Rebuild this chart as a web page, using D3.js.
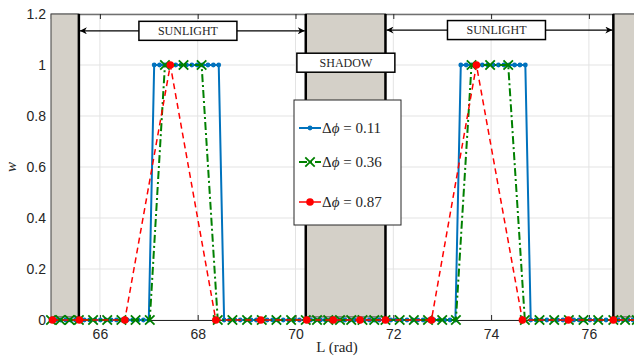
<!DOCTYPE html>
<html>
<head>
<meta charset="utf-8">
<script src="https://cdn.jsdelivr.net/npm/d3@7"></script>
<style>
  body { margin: 0; background: #fff; }
  svg { display: block; }
  .tick text { font-family: "Liberation Sans", Arial, sans-serif; font-size: 14px; fill: #262626; }
</style>
</head>
<body>
<svg id="chart"></svg>
<script>
// tick labels
const xTicks = [66, 68, 70, 72, 74, 76];
const yTicks = [0, 0.2, 0.4, 0.6, 0.8, 1, 1.2];

// eclipse intervals (L, rad)
const shadows = [[65, 65.57], [70.21, 71.84], [76.50, 77]];
const boundaries = [65.57, 70.21, 71.84, 76.50];

// series: dphi = 0.11
const blueL = [65.00, 65.10, 65.20, 65.30, 65.40, 65.50, 65.57,
  65.68, 65.79, 65.90, 66.01, 66.12, 66.23, 66.34, 66.45, 66.56, 66.67, 66.78, 66.89, 67.00,
  67.11, 67.22, 67.33, 67.44, 67.55, 67.66, 67.77, 67.88, 67.99, 68.10, 68.21, 68.32, 68.43,
  68.54, 68.65, 68.76, 68.87, 68.98, 69.09, 69.20, 69.31, 69.42, 69.53, 69.64, 69.75, 69.86, 69.97, 70.08, 70.21,
  70.31, 70.41, 70.51, 70.61, 70.71, 70.81, 70.91, 71.01, 71.11, 71.21, 71.31, 71.41, 71.51, 71.61, 71.71, 71.84,
  71.95, 72.06, 72.17, 72.28, 72.39, 72.50, 72.61, 72.72, 72.83, 72.94, 73.05, 73.16, 73.27,
  73.38, 73.49, 73.60, 73.71, 73.82, 73.93, 74.04, 74.15, 74.26, 74.37, 74.48, 74.59, 74.70,
  74.81, 74.92, 75.03, 75.14, 75.25, 75.36, 75.47, 75.58, 75.69, 75.80, 75.91, 76.02, 76.13, 76.24, 76.35, 76.50,
  76.60, 76.70, 76.80, 76.90, 77.00];
const blueW = [0, 0, 0, 0, 0, 0, 0,
  0, 0, 0, 0, 0, 0, 0, 0, 0, 0, 0, 0, 0,
  1, 1, 1, 1, 1, 1, 1, 1, 1, 1, 1, 1, 1,
  0, 0, 0, 0, 0, 0, 0, 0, 0, 0, 0, 0, 0, 0, 0, 0,
  0, 0, 0, 0, 0, 0, 0, 0, 0, 0, 0, 0, 0, 0, 0, 0,
  0, 0, 0, 0, 0, 0, 0, 0, 0, 0, 0, 0, 0,
  1, 1, 1, 1, 1, 1, 1, 1, 1, 1, 1, 1, 1,
  0, 0, 0, 0, 0, 0, 0, 0, 0, 0, 0, 0, 0, 0, 0, 0,
  0, 0, 0, 0, 0];

// series: dphi = 0.36
const greenL = [65.00, 65.19, 65.38, 65.57,
  65.86, 66.15, 66.44, 66.73, 67.02,
  67.33, 67.71, 68.08,
  68.41, 68.71, 69.01, 69.31, 69.61, 69.91, 70.21,
  70.44, 70.67, 70.91, 71.14, 71.37, 71.61, 71.84,
  72.13, 72.42, 72.71, 73.00, 73.28,
  73.60, 73.98, 74.35,
  74.69, 74.99, 75.29, 75.59, 75.89, 76.19, 76.50,
  76.74, 76.98];
const greenW = [0, 0, 0, 0,
  0, 0, 0, 0, 0,
  1, 1, 1,
  0, 0, 0, 0, 0, 0, 0,
  0, 0, 0, 0, 0, 0, 0,
  0, 0, 0, 0, 0,
  1, 1, 1,
  0, 0, 0, 0, 0, 0, 0,
  0, 0];

// series: dphi = 0.87
const redL = [65.03, 65.58, 66.51, 67.44, 68.37, 69.29, 70.23, 70.77, 71.32, 71.84,
  72.78, 73.70, 74.64, 75.58, 76.50, 77.04];
const redW = [0, 0, 0, 1, 0, 0, 0, 0, 0, 0,
  0, 1, 0, 0, 0, 0];

const legendLabels = ['0.11', '0.36', '0.87'];

const svgWidth = 634;
const svgHeight = 360;
const margin = {top: 14, left: 51, bottom: 40};
const plotBottom = svgHeight - margin.bottom;

const svg = d3.select('#chart')
  .attr('width', svgWidth)
  .attr('height', svgHeight);

const x = d3.scaleLinear().domain([65, 77]).range([margin.left, margin.left + 12 * 48.9]);
const y = d3.scaleLinear().domain([0, 1.2]).range([plotBottom, margin.top]);

// grid
svg.append('g')
  .selectAll('line.gx')
  .data(xTicks)
  .join('line')
  .attr('x1', d => x(d)).attr('x2', d => x(d))
  .attr('y1', y(0)).attr('y2', y(1.2))
  .attr('stroke', '#e3e3e3').attr('stroke-width', 1);
svg.append('g')
  .selectAll('line.gy')
  .data(yTicks)
  .join('line')
  .attr('x1', x(65)).attr('x2', svgWidth)
  .attr('y1', d => y(d)).attr('y2', d => y(d))
  .attr('stroke', '#e3e3e3').attr('stroke-width', 1);

// axes
const xAxis = svg.append('g')
  .attr('transform', `translate(0, ${plotBottom})`)
  .call(d3.axisBottom(x).tickValues(xTicks).tickFormat(d3.format('d')).tickSize(-5).tickPadding(9));
xAxis.select('.domain').attr('stroke', '#262626');
xAxis.selectAll('.tick line').attr('stroke', '#262626');

const xTop = svg.append('g')
  .attr('transform', `translate(0, ${margin.top})`)
  .call(d3.axisTop(x).tickValues(xTicks).tickFormat('').tickSize(-5));
xTop.select('.domain').attr('stroke', '#707070').attr('stroke-width', 1.5);
xTop.selectAll('.tick line').attr('stroke', '#262626');

const yAxis = svg.append('g')
  .attr('transform', `translate(${margin.left}, 0)`)
  .call(d3.axisLeft(y).tickValues(yTicks).tickFormat(d => String(d)).tickSize(-5).tickPadding(5));
yAxis.select('.domain').attr('stroke', '#262626');
yAxis.selectAll('.tick line').attr('stroke', '#262626');

// shadow bands
svg.append('g')
  .selectAll('rect')
  .data(shadows)
  .join('rect')
  .attr('x', d => x(d[0]))
  .attr('y', y(1.2))
  .attr('width', d => x(d[1]) - x(d[0]))
  .attr('height', y(0.012) - y(1.2))
  .attr('fill', '#d4d0c8')
  .attr('stroke', '#404040')
  .attr('stroke-width', 1);

svg.append('g')
  .selectAll('line')
  .data(boundaries)
  .join('line')
  .attr('x1', d => x(d)).attr('x2', d => x(d))
  .attr('y1', y(1.2)).attr('y2', y(0))
  .attr('stroke', '#000')
  .attr('stroke-width', 2.5);

// arrows + labels
const defs = svg.append('defs');
defs.append('marker')
  .attr('id', 'arrow')
  .attr('viewBox', '0 0 10 10')
  .attr('refX', 10).attr('refY', 5)
  .attr('markerWidth', 9).attr('markerHeight', 7)
  .attr('markerUnits', 'userSpaceOnUse')
  .attr('orient', 'auto-start-reverse')
  .append('path')
  .attr('d', 'M0,0 L10,5 L0,10 L3,5 Z')
  .attr('fill', '#000');

const arrows = [
  {x1: boundaries[0], x2: boundaries[1], w: 1.134},
  {x1: boundaries[2], x2: boundaries[3], w: 1.137}
];
svg.append('g')
  .selectAll('line')
  .data(arrows)
  .join('line')
  .attr('x1', d => x(d.x1) + 1).attr('x2', d => x(d.x2) - 1)
  .attr('y1', d => y(d.w)).attr('y2', d => y(d.w))
  .attr('stroke', '#000').attr('stroke-width', 1.3)
  .attr('marker-start', 'url(#arrow)')
  .attr('marker-end', 'url(#arrow)');

const labels = [
  {text: 'SUNLIGHT', L: 67.80, w: 1.134},
  {text: 'SHADOW', L: 71.03, w: 1.009},
  {text: 'SUNLIGHT', L: 74.11, w: 1.137}
];
const lab = svg.append('g')
  .selectAll('g')
  .data(labels)
  .join('g')
  .attr('transform', d => `translate(${x(d.L)}, ${y(d.w)})`);
lab.append('rect')
  .attr('x', -49).attr('y', -9.5)
  .attr('width', 98).attr('height', 19)
  .attr('fill', '#fff')
  .attr('stroke', '#000').attr('stroke-width', 1.5);
lab.append('text')
  .attr('text-anchor', 'middle')
  .attr('dy', '0.35em')
  .attr('font-family', '"Liberation Serif", "DejaVu Serif", serif')
  .attr('font-size', 12)
  .attr('fill', '#262626')
  .text(d => d.text);

// series
const line = d3.line()
  .x(d => x(d[0]))
  .y(d => y(d[1]));

const blue = d3.zip(blueL, blueW);
const green = d3.zip(greenL, greenW);
const red = d3.zip(redL, redW);

svg.append('path')
  .datum(blue)
  .attr('fill', 'none')
  .attr('stroke', '#0072bd')
  .attr('stroke-width', 2)
  .attr('stroke-linejoin', 'round')
  .attr('d', line);
svg.append('g')
  .selectAll('circle')
  .data(blue)
  .join('circle')
  .attr('cx', d => x(d[0])).attr('cy', d => y(d[1]))
  .attr('r', 2.4)
  .attr('fill', '#0072bd');

svg.append('path')
  .datum(green)
  .attr('fill', 'none')
  .attr('stroke', '#008000')
  .attr('stroke-width', 2)
  .attr('stroke-dasharray', '8,3,2,3')
  .attr('d', line);
const cross = d3.symbol().type(d3.symbolX).size(60);
svg.append('g')
  .selectAll('path')
  .data(green)
  .join('path')
  .attr('transform', d => `translate(${x(d[0])}, ${y(d[1])})`)
  .attr('d', cross)
  .attr('fill', 'none')
  .attr('stroke', '#008000')
  .attr('stroke-width', 1.8);

svg.append('path')
  .datum(red)
  .attr('fill', 'none')
  .attr('stroke', '#ff0000')
  .attr('stroke-width', 1.5)
  .attr('stroke-dasharray', '6,4')
  .attr('d', line);
svg.append('g')
  .selectAll('circle')
  .data(red)
  .join('circle')
  .attr('cx', d => x(d[0])).attr('cy', d => y(d[1]))
  .attr('r', 3.8)
  .attr('fill', '#ff0000');

// legend
const legend = svg.append('g').attr('transform', 'translate(294, 100)');
legend.append('rect')
  .attr('width', 107).attr('height', 125)
  .attr('fill', '#fff')
  .attr('stroke', '#262626').attr('stroke-width', 1);

const entries = [
  {label: legendLabels[0], color: '#0072bd', mark: 'dot'},
  {label: legendLabels[1], color: '#008000', mark: 'x'},
  {label: legendLabels[2], color: '#ff0000', mark: 'circle'}
];
const rowY = [28, 62, 102];
const row = legend.selectAll('g.row')
  .data(entries)
  .join('g')
  .attr('transform', (d, i) => `translate(0, ${rowY[i]})`);
row.append('line')
  .attr('x1', 5).attr('x2', 27)
  .attr('stroke', d => d.color)
  .attr('stroke-width', d => d.mark === 'circle' ? 1.5 : 2)
  .attr('stroke-dasharray', d => d.mark === 'x' ? '8,3,2,3' : null);
row.filter(d => d.mark === 'dot').append('circle')
  .attr('cx', 16).attr('r', 2.4).attr('fill', d => d.color);
row.filter(d => d.mark === 'circle').append('circle')
  .attr('cx', 16).attr('r', 3.8).attr('fill', d => d.color);
row.filter(d => d.mark === 'x').append('path')
  .attr('transform', 'translate(16, 0)')
  .attr('d', cross)
  .attr('fill', 'none')
  .attr('stroke', d => d.color)
  .attr('stroke-width', 1.8);
const lt = row.append('text')
  .attr('x', 28)
  .attr('dy', '0.35em')
  .attr('font-family', '"Liberation Serif", "DejaVu Serif", serif')
  .attr('font-size', 15)
  .attr('fill', '#262626');
lt.append('tspan').text('Δ');
lt.append('tspan').attr('font-style', 'italic').text('ϕ');
lt.append('tspan').text(d => ' = ' + d.label);

// axis labels
svg.append('text')
  .attr('x', x(70.85)).attr('y', 352)
  .attr('text-anchor', 'middle')
  .attr('font-family', '"Liberation Serif", "DejaVu Serif", serif')
  .attr('font-size', 15)
  .attr('fill', '#262626')
  .text('L (rad)');

svg.append('text')
  .attr('transform', `translate(16, ${y(0.6)}) rotate(-90)`)
  .attr('text-anchor', 'middle')
  .attr('font-family', '"Liberation Serif", "DejaVu Serif", serif')
  .attr('font-style', 'italic')
  .attr('font-size', 15)
  .attr('fill', '#262626')
  .text('w');
</script>
</body>
</html>
